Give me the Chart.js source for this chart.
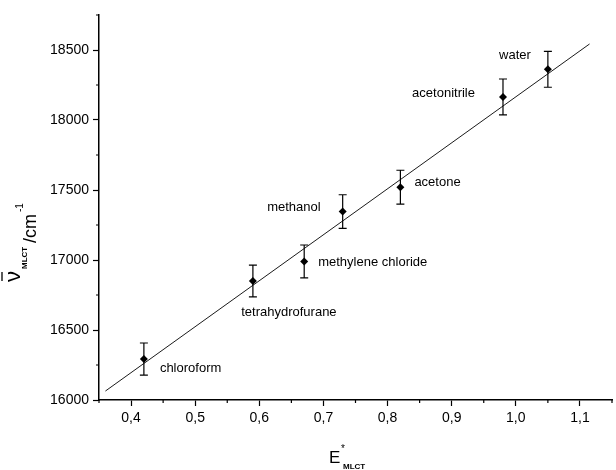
<!DOCTYPE html>
<html>
<head>
<meta charset="utf-8">
<script src="https://cdn.jsdelivr.net/npm/chart.js@4"></script>
<style>
  html, body { margin: 0; padding: 0; background: #fff; }
  #wrap { width: 616px; height: 470px; }
</style>
</head>
<body>
<div id="wrap"><canvas id="myCanvas" width="616" height="470"></canvas></div>
<script>
// data
const solvents = ['chloroform', 'tetrahydrofurane', 'methylene chloride', 'methanol', 'acetone', 'acetonitrile', 'water'];
const eMLCT = [0.42, 0.59, 0.67, 0.73, 0.82, 0.98, 1.05];
const nuMLCT = [16292, 16850, 16990, 17346, 17520, 18165, 18362];
const nuErr = [115, 114, 117, 120, 121, 128, 128];
const fitX = [0.36, 1.115];
const fitY = [16064, 18543];

// where each solvent name sits relative to its point (px), and text alignment
const labelDx = [16, 36, 14, -22, 14, -28, -17];
const labelDy = [9, 31, 1, -4, -5, -3, -14];
const labelAlign = ['left', 'center', 'left', 'right', 'left', 'right', 'right'];

const FONT = '"Liberation Sans", Arial, Helvetica, sans-serif';

const isMajor = (v, step) => Math.abs(v / step - Math.round(v / step)) < 1e-6;

// error bars + solvent names + minor ticks + axis titles
const extras = {
    id: 'extras',
    afterDatasetsDraw(chart) {
        const ctx = chart.ctx;
        const xs = chart.scales.x, ys = chart.scales.y;
        ctx.save();
        ctx.strokeStyle = '#000';
        ctx.lineWidth = 1.2;
        for (let i = 0; i < eMLCT.length; i++) {
            const px = xs.getPixelForValue(eMLCT[i]);
            const top = ys.getPixelForValue(nuMLCT[i] + nuErr[i]);
            const bot = ys.getPixelForValue(nuMLCT[i] - nuErr[i]);
            ctx.beginPath();
            ctx.moveTo(px, top); ctx.lineTo(px, bot);
            ctx.moveTo(px - 4, top); ctx.lineTo(px + 4, top);
            ctx.moveTo(px - 4, bot); ctx.lineTo(px + 4, bot);
            ctx.stroke();
        }
        ctx.fillStyle = '#000';
        ctx.font = '13px ' + FONT;
        ctx.textBaseline = 'middle';
        for (let i = 0; i < solvents.length; i++) {
            const px = xs.getPixelForValue(eMLCT[i]);
            const py = ys.getPixelForValue(nuMLCT[i]);
            ctx.textAlign = labelAlign[i];
            ctx.fillText(solvents[i], px + labelDx[i], py + labelDy[i]);
        }
        ctx.restore();
    },
    afterDraw(chart) {
        const ctx = chart.ctx;
        const xs = chart.scales.x, ys = chart.scales.y;
        const area = chart.chartArea;
        ctx.save();
        ctx.strokeStyle = '#000';
        ctx.lineWidth = 1.2;
        ctx.beginPath();
        xs.ticks.forEach(t => {
            if (!isMajor(t.value, 0.1)) {
                const p = xs.getPixelForValue(t.value);
                ctx.moveTo(p, area.bottom); ctx.lineTo(p, area.bottom + 3);
            }
        });
        ys.ticks.forEach(t => {
            if (!isMajor(t.value, 500)) {
                const p = ys.getPixelForValue(t.value);
                ctx.moveTo(area.left, p); ctx.lineTo(area.left - 3, p);
            }
        });
        ctx.stroke();

        // x title: E*_MLCT
        ctx.fillStyle = '#000';
        ctx.textBaseline = 'alphabetic';
        ctx.textAlign = 'left';
        ctx.font = '17px ' + FONT;
        ctx.fillText('E', 329, 463);
        ctx.font = '10px ' + FONT;
        ctx.fillText('*', 341, 452);
        ctx.font = 'bold 8px ' + FONT;
        ctx.fillText('MLCT', 343, 469);

        // y title: nu-bar_MLCT /cm-1 (rotated)
        ctx.translate(0, 0);
        ctx.save();
        ctx.translate(27, 282);
        ctx.rotate(-Math.PI / 2);
        ctx.font = '22px ' + FONT;
        ctx.fillText('ν', 0, -7);
        const w = ctx.measureText('ν').width;
        ctx.lineWidth = 1.3;
        ctx.beginPath();
        ctx.moveTo(1, -25); ctx.lineTo(w - 1, -25);
        ctx.stroke();
        ctx.font = 'bold 8px ' + FONT;
        ctx.fillText('MLCT', w + 2, 0);
        ctx.font = '18px ' + FONT;
        ctx.fillText('/cm', w + 28, 0 + 9);
        ctx.font = '10px ' + FONT;
        ctx.fillText('-1', w + 28 + ctx.measureText('').width + 31, -4);
        ctx.restore();
        ctx.restore();
    }
};

const dataConfig = {
    datasets: [{
        type: 'line',
        label: 'fit',
        data: fitX.map((x, i) => ({x: x, y: fitY[i]})),
        borderColor: '#000',
        borderWidth: 0.9,
        pointRadius: 0,
        fill: false,
        order: 2
    }, {
        type: 'scatter',
        label: 'solvents',
        data: eMLCT.map((x, i) => ({x: x, y: nuMLCT[i]})),
        pointStyle: 'rectRot',
        pointRadius: 4,
        backgroundColor: '#000',
        borderColor: '#000',
        borderWidth: 0,
        order: 1
    }]
};

const config = {
    type: 'scatter',
    data: dataConfig,
    plugins: [extras],
    options: {
        responsive: false,
        animation: false,
        layout: { padding: { top: 15, right: 2, left: 0, bottom: 0 } },
        plugins: { legend: { display: false }, tooltip: { enabled: false } },
        scales: {
            x: {
                type: 'linear',
                min: 0.35,
                max: 1.15,
                afterFit: s => { s.height = 70; },
                border: { display: true, color: '#000', width: 1.5 },
                grid: {
                    drawOnChartArea: false,
                    tickLength: 6,
                    tickWidth: 1.2,
                    tickColor: c => isMajor(c.tick.value, 0.1) ? '#000' : 'rgba(0,0,0,0)'
                },
                ticks: {
                    stepSize: 0.05,
                    autoSkip: false,
                    maxRotation: 0,
                    padding: 4,
                    color: '#000',
                    font: { family: FONT, size: 14 },
                    callback: v => isMajor(v, 0.1) ? v.toFixed(1).replace('.', ',') : ''
                }
            },
            y: {
                type: 'linear',
                min: 16000,
                max: 18750,
                afterFit: s => { s.width = 99; },
                border: { display: true, color: '#000', width: 1.5 },
                grid: {
                    drawOnChartArea: false,
                    tickLength: 6,
                    tickWidth: 1.2,
                    tickColor: c => isMajor(c.tick.value, 500) ? '#000' : 'rgba(0,0,0,0)'
                },
                ticks: {
                    stepSize: 250,
                    autoSkip: false,
                    padding: 4,
                    color: '#000',
                    font: { family: FONT, size: 14 },
                    callback: v => isMajor(v, 500) ? String(v) : ''
                }
            }
        }
    }
};

const myChart = new Chart(document.getElementById('myCanvas'), config);
</script>
</body>
</html>
